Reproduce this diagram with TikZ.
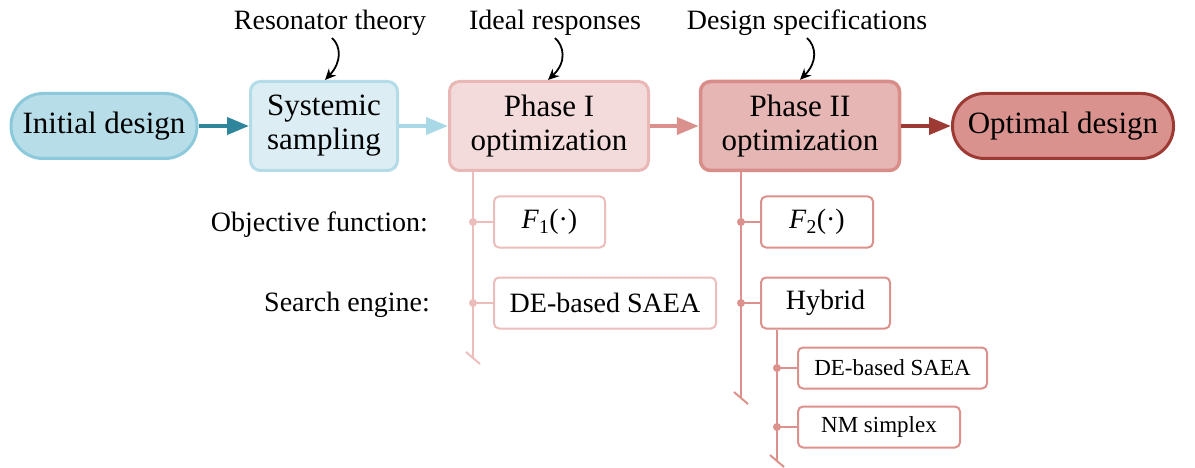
\documentclass[tikz,border=0pt]{standalone}
\usepackage{fontspec}
\setmainfont{Liberation Serif}
\usetikzlibrary{arrows.meta,calc}
\definecolor{idfill}{HTML}{B7DDE8}
\definecolor{iddraw}{HTML}{8CCADB}
\definecolor{arA}{HTML}{2F869C}
\definecolor{ssfill}{HTML}{DCEEF4}
\definecolor{ssdraw}{HTML}{B3DCE8}
\definecolor{arB}{HTML}{A9D8E6}
\definecolor{pifill}{HTML}{F2DBDA}
\definecolor{pidraw}{HTML}{E9B7B5}
\definecolor{arC}{HTML}{DA918D}
\definecolor{piifill}{HTML}{E6B6B4}
\definecolor{piidraw}{HTML}{D98D89}
\definecolor{arD}{HTML}{9D3A33}
\definecolor{opfill}{HTML}{D9928E}
\definecolor{treeI}{HTML}{EBBDBB}
\definecolor{treeII}{HTML}{DC918D}
\newcommand{\bigfont}{\fontsize{31}{34}\selectfont}
\newcommand{\midfont}{\fontsize{28}{31}\selectfont}
\newcommand{\smallfont}{\fontsize{23}{26}\selectfont}
\tikzset{
  stadium/.style={rectangle, rounded corners=32pt, line width=3pt, inner sep=0pt,
    minimum width=186pt, minimum height=65pt, font=\bigfont},
  mainbox/.style={rectangle, rounded corners=10pt, line width=3pt, inner sep=0pt,
    minimum height=89pt, align=center, font=\bigfont},
  flowarrow/.style={line width=4pt, -{Triangle[length=22pt,width=17pt]}},
  curlyarrow/.style={line width=1.8pt, black, -{Stealth[length=11pt,width=10pt]}},
  toplabel/.style={font=\midfont, anchor=base, inner sep=0pt},
  sidelabel/.style={font=\midfont, anchor=base east, inner sep=0pt},
  leafbox/.style={rectangle, rounded corners=5pt, line width=2pt, fill=white,
    inner sep=0pt, minimum height=51pt, font=\midfont},
  subbox/.style={rectangle, rounded corners=5pt, line width=2pt, fill=white,
    inner sep=0pt, minimum height=41pt, font=\smallfont},
  treeline/.style={line width=2pt},
  dotmark/.style={circle, inner sep=0pt, minimum size=8pt}
}
\begin{document}
\begin{tikzpicture}[x=1pt,y=-1pt]
\useasboundingbox (0,0) rectangle (1195,468);
% main flow
\node[stadium, fill=idfill, draw=iddraw] (id) at (104,126) {Initial design};
\node[mainbox, fill=ssfill, draw=ssdraw, minimum width=147pt] (ss) at (324,126) {Systemic\\sampling};
\node[mainbox, fill=pifill, draw=pidraw, minimum width=199pt] (pi) at (549,126) {Phase I\\optimization};
\node[mainbox, fill=piifill, draw=piidraw, minimum width=199pt, line width=3.5pt] (pii) at (800,126) {Phase II\\optimization};
\node[stadium, fill=opfill, draw=arD, minimum width=221pt] (op) at (1063,126) {Optimal design};
\draw[flowarrow, arA] (id.east) -- (ss.west);
\draw[flowarrow, arB] (ss.east) -- (pi.west);
\draw[flowarrow, arC] (pi.east) -- (pii.west);
\draw[flowarrow, arD] (pii.east) -- (op.west);
% top labels
\node[toplabel] (rt) at (330,30) {Resonator theory};
\node[toplabel] (ir) at (555,30) {Ideal responses};
\node[toplabel] (ds) at (807,30) {Design specifications};
\coordinate (rts) at (332,38);
\coordinate (irs) at (555,38);
\coordinate (dss) at (807,38);
\draw[curlyarrow] (rts) .. controls ($(rts)+(9,8)$) and ($(ss.north)+(18,-18)$) .. ($(ss.north)+(1,0)$);
\draw[curlyarrow] (irs) .. controls ($(irs)+(9,8)$) and ($(pi.north)+(18,-18)$) .. ($(pi.north)+(-1,0)$);
\draw[curlyarrow] (dss) .. controls ($(dss)+(9,8)$) and ($(pii.north)+(18,-18)$) .. ($(pii.north)+(0,0)$);
% side labels
\node[sidelabel] (of) at (428,231) {Objective function:};
\node[sidelabel] (se) at (430,311) {Search engine:};
% Phase I tree
\coordinate (ia) at (473,222);
\coordinate (ib) at (473,303);
\coordinate (iend) at (473,358);
\node[leafbox, draw=treeI, minimum width=111pt, anchor=west] (fone) at (493,222) {\textit{F}\textsubscript{1}(·)};
\node[leafbox, draw=treeI, minimum width=222pt, anchor=west] (dei) at (493,303) {DE-based SAEA};
\draw[treeline, treeI] (ia |- pi.south) -- (iend);
\draw[treeline, treeI] ($(iend)+(-7,-6)$) -- ($(iend)+(7,6)$);
\draw[treeline, treeI] (ia) -- (fone.west);
\draw[treeline, treeI] (ib) -- (dei.west);
\node[dotmark, fill=treeI] at (ia) {};
\node[dotmark, fill=treeI] at (ib) {};
% Phase II tree
\coordinate (iia) at (741,222);
\coordinate (iib) at (741,303);
\coordinate (iiend) at (741,398);
\node[leafbox, draw=treeII, minimum width=112pt, anchor=west] (ftwo) at (760,222) {\textit{F}\textsubscript{2}(·)};
\node[leafbox, draw=treeII, minimum width=129pt, anchor=west] (hy) at (760,303) {Hybrid};
\draw[treeline, treeII] (iia |- pii.south) -- (iiend);
\draw[treeline, treeII] ($(iiend)+(-7,-6)$) -- ($(iiend)+(7,6)$);
\draw[treeline, treeII] (iia) -- (ftwo.west);
\draw[treeline, treeII] (iib) -- (hy.west);
\node[dotmark, fill=treeII] at (iia) {};
\node[dotmark, fill=treeII] at (iib) {};
% Hybrid subtree
\coordinate (ha) at (777,368);
\coordinate (hb) at (777,427);
\coordinate (hend) at (777,461);
\node[subbox, draw=treeII, minimum width=189pt, anchor=west] (deii) at (797,368) {DE-based SAEA};
\node[subbox, draw=treeII, minimum width=162pt, anchor=west] (nm) at (797,427) {NM simplex};
\draw[treeline, treeII] (ha |- hy.south) -- (hend);
\draw[treeline, treeII] ($(hend)+(-7,-6)$) -- ($(hend)+(7,6)$);
\draw[treeline, treeII] (ha) -- (deii.west);
\draw[treeline, treeII] (hb) -- (nm.west);
\node[dotmark, fill=treeII] at (ha) {};
\node[dotmark, fill=treeII] at (hb) {};
\end{tikzpicture}
\end{document}
